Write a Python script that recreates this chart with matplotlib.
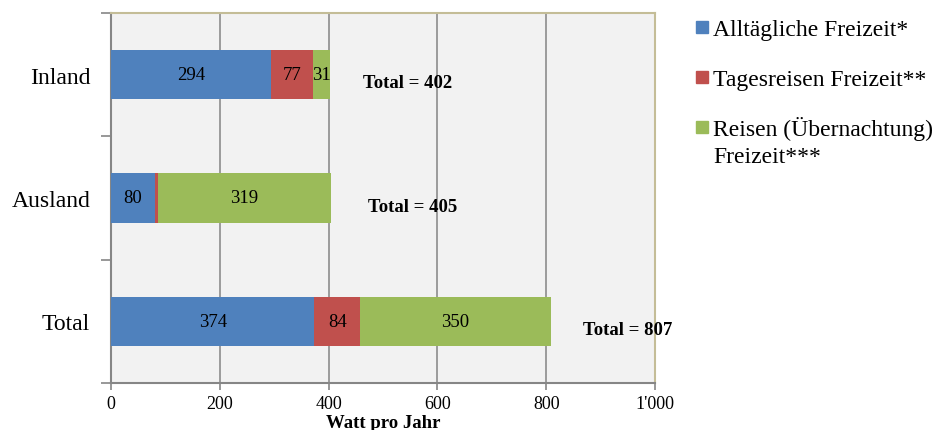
import matplotlib
matplotlib.use("Agg")
import matplotlib.pyplot as plt
from matplotlib.patches import Rectangle
import numpy as np

plt.rcParams["font.family"] = ["Liberation Serif", "DejaVu Serif"]

categories = ["Inland", "Ausland", "Total"]
alltag = [294, 80, 374]
tagesreisen = [77, 6, 84]
reisen = [31, 319, 350]
totals = [402, 405, 807]
total_label_x = [546, 555, 950]
series_names = ["Alltägliche Freizeit*", "Tagesreisen Freizeit**",
                "Reisen (Übernachtung)\nFreizeit***"]
colors = ["#4f81bd", "#c0504d", "#9bbb59"]
xticks = [0, 200, 400, 600, 800, 1000]
xticklabels = ["0", "200", "400", "600", "800", "1'000"]

fig = plt.figure(figsize=(9.38, 4.31), dpi=100)
ax = fig.add_axes([111 / 938, 1 - 384 / 431, 544 / 938, 370 / 431])
ax.set_facecolor("#f2f2f2")

ypos = np.arange(len(categories))[::-1]  # Inland oben
left = np.zeros(len(categories))
for vals, col in zip([alltag, tagesreisen, reisen], colors):
    vals = np.array(vals, dtype=float)
    ax.barh(ypos, vals, left=left, height=0.4, color=col, zorder=3)
    for y, l, v in zip(ypos, left, vals):
        if v >= 20:
            ax.text(l + v / 2, y, f"{int(v)}", ha="center", va="center",
                    fontsize=13.5, zorder=4)
    left += vals

for y, t, tx in zip(ypos, totals, total_label_x):
    ax.text(tx, y - 0.065, f"Total = {t}", ha="center", va="center",
            fontsize=13.5, fontweight="bold", zorder=4)

ax.set_xlim(0, 1000)
ax.set_ylim(-0.5, 2.5)
ax.set_xticks(xticks)
ax.set_xticklabels(xticklabels, fontsize=13)
ax.tick_params(axis="x", length=5, width=1.2, color="#868686", pad=4)

ax.set_yticks([-0.5, 0.5, 1.5, 2.5])
ax.set_yticklabels([])
ax.tick_params(axis="y", which="major", length=7, width=1.2, color="#868686")
ax.set_yticks(ypos, minor=True)
ax.set_yticklabels(categories, minor=True, fontsize=17)
ax.tick_params(axis="y", which="minor", length=0, pad=15)

ax.grid(axis="x", color="#8c8c8c", linewidth=1.2, zorder=1)
ax.set_axisbelow(True)
for side in ["left", "bottom"]:
    ax.spines[side].set_color("#868686")
    ax.spines[side].set_linewidth(1.5)
for side in ["top", "right"]:
    ax.spines[side].set_color("#c4bd97")
    ax.spines[side].set_linewidth(1.5)

ax.set_xlabel("Watt pro Jahr", fontsize=13.5, fontweight="bold", labelpad=1)

# Legende rechts (Quadrat + Text, mehrzeilige Einträge Zeile für Zeile)
leg_base = [36, 86, 136]
line_step = 27
for name, col, yb in zip(series_names, colors, leg_base):
    fig.add_artist(Rectangle((696 / 938, 1 - (yb - 2) / 431), 12 / 938, 12 / 431,
                             transform=fig.transFigure, color=col))
    for k, line in enumerate(name.split("\n")):
        fig.text(713 / 938, 1 - (yb + k * line_step) / 431, line, fontsize=17,
                 va="baseline", ha="left")

fig.savefig("out.png", dpi=100)
